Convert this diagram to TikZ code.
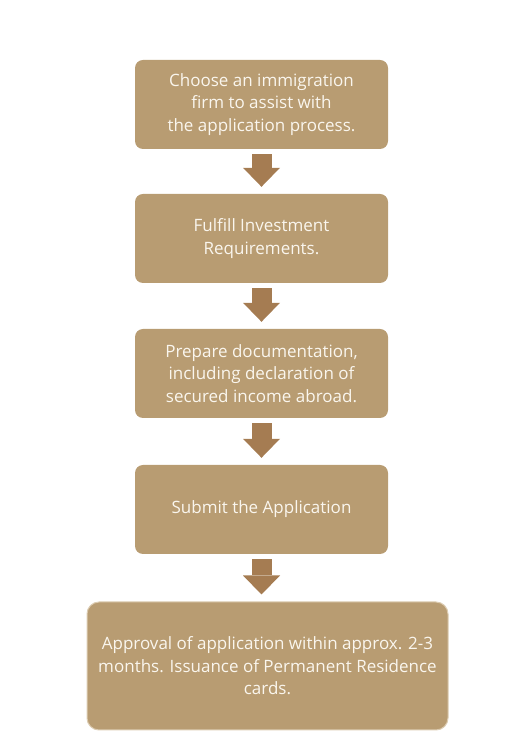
\documentclass[tikz,border=0pt]{standalone}
\usepackage{fontspec}
\setmainfont{Open Sans}
\usetikzlibrary{arrows.meta}
\definecolor{boxtan}{HTML}{B89C72}
\definecolor{arrowbrown}{HTML}{A57C52}
\definecolor{rimtan}{HTML}{DCCCB2}
\definecolor{textcream}{HTML}{FAF6EE}
\begin{document}
\begin{tikzpicture}[x=1pt,y=1pt,
    stepbox/.style={fill=boxtan,rounded corners=8pt,minimum width=253pt,
      minimum height=89pt,align=center,text=textcream,
      font=\fontsize{17}{22.5}\selectfont,inner sep=0pt},
    flow/.style={draw=arrowbrown,line width=20pt,shorten <=5pt,shorten >=7pt,
      -{Triangle[width=37pt,length=19pt,line width=0pt]}}]
    \useasboundingbox (0,0) rectangle (525,750);
    \node[stepbox] (choose) at (261.5,645.5) {Choose an immigration\\firm to assist with\\the application process.};
    \node[stepbox] (invest) at (261.5,511.5) {Fulfill Investment\\ Requirements.};
    \node[stepbox] (docs) at (261.5,376.5) {Prepare documentation,\\including declaration of\\secured income abroad.};
    \node[stepbox] (submit) at (261.5,240.5) {Submit the Application};
    \node[stepbox,draw=rimtan,line width=1pt,rounded corners=12pt,minimum width=361pt,
      minimum height=128pt] (approve) at (267.5,84)
      {Approval of application within approx. 2-3\\ months. Issuance of Permanent Residence\\cards.};
    \draw[flow] (choose) -- (invest);
    \draw[flow] (invest) -- (docs);
    \draw[flow] (docs) -- (submit);
    \draw[flow] (submit.south) -- (submit.south|-approve.north);
  \end{tikzpicture}
\end{document}
